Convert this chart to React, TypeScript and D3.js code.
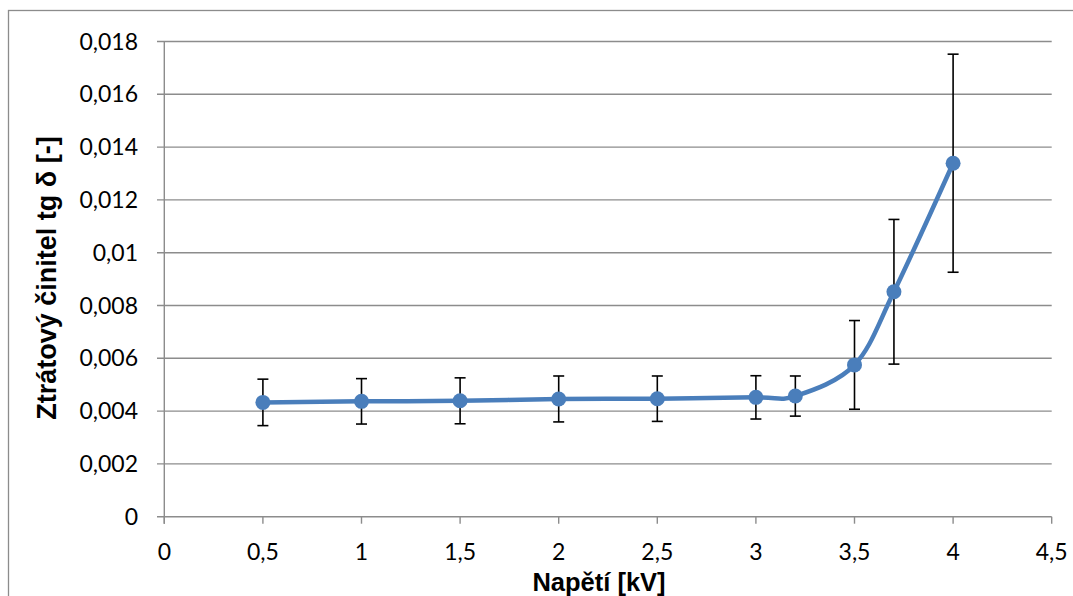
import React from "react";
import * as d3 from "d3";

const voltages = [0.5, 1, 1.5, 2, 2.5, 3, 3.2, 3.5, 3.7, 4];
const tanDelta = [0.00433, 0.00437, 0.00439, 0.00446, 0.00447, 0.00452, 0.00457, 0.00575, 0.00852, 0.01339];
const errors = [0.00088, 0.00086, 0.00087, 0.00087, 0.00086, 0.00082, 0.00076, 0.00168, 0.00274, 0.00413];
const xTicks = [0, 0.5, 1, 1.5, 2, 2.5, 3, 3.5, 4, 4.5];
const yTicks = [0, 0.002, 0.004, 0.006, 0.008, 0.01, 0.012, 0.014, 0.016, 0.018];
const xTitle = "Napětí [kV]";
const yTitle = "Ztrátový činitel tg δ [-]";

const W = 1073;
const H = 596;
const fmt = (v: number) => String(+v.toFixed(4)).replace(".", ",");

export default function App() {
  const x = d3.scaleLinear().domain([0, 4.5]).range([164.3, 1051.7]);
  const y = d3.scaleLinear().domain([0, 0.018]).range([516.7, 41.5]);
  const pts = voltages.map((v, i) => [x(v), y(tanDelta[i])] as [number, number]);
  const line = d3.line().curve(d3.curveCardinal.tension(0))(pts) || "";
  const blue = "#4a7ebb";
  const grid = "#8c8c8c";
  return (
    <svg width={W} height={H} style={{ position: "absolute", left: 0, top: 0 }}>
      <rect x={0} y={0} width={W} height={H} fill="#fff" />
      <rect x={8.5} y={10.5} width={1200} height={700} fill="#fff" stroke="#8c8c8c" strokeWidth={1.3} />
      {yTicks.map((t) => (
        <g key={"y" + t}>
          <line x1={157} x2={x(4.5)} y1={y(t)} y2={y(t)} stroke={grid} strokeWidth={1.4} />
          <text x={138} y={y(t) + 8} textAnchor="end" fontFamily="Lato" fontSize={23} fill="#000">
            {fmt(t)}
          </text>
        </g>
      ))}
      <line x1={x(0)} x2={x(0)} y1={y(0.018)} y2={y(0) + 7} stroke={grid} strokeWidth={1.4} />
      {xTicks.map((t) => (
        <g key={"x" + t}>
          <line x1={x(t)} x2={x(t)} y1={y(0)} y2={y(0) + 7} stroke={grid} strokeWidth={1.4} />
          <text x={x(t)} y={560} textAnchor="middle" fontFamily="Lato" fontSize={23} fill="#000">
            {fmt(t)}
          </text>
        </g>
      ))}
      {voltages.map((v, i) => {
        const cx = x(v);
        const top = y(tanDelta[i] + errors[i]);
        const bot = y(tanDelta[i] - errors[i]);
        return (
          <g key={"e" + v} stroke="#000" strokeWidth={1.6}>
            <line x1={cx} x2={cx} y1={top} y2={bot} />
            <line x1={cx - 5.5} x2={cx + 5.5} y1={top} y2={top} />
            <line x1={cx - 5.5} x2={cx + 5.5} y1={bot} y2={bot} />
          </g>
        );
      })}
      <path d={line} fill="none" stroke={blue} strokeWidth={4.5} strokeLinecap="round" />
      {pts.map(([px, py], i) => (
        <circle key={"p" + i} cx={px} cy={py} r={7.5} fill={blue} />
      ))}
      <text x={599} y={591} textAnchor="middle" fontFamily="Liberation Sans" fontWeight="bold" fontSize={25.5} fill="#000">
        {xTitle}
      </text>
      <text
        transform={`translate(56,278) rotate(-90)`}
        textAnchor="middle"
        fontFamily="Liberation Sans"
        fontWeight="bold"
        fontSize={27}
        fill="#000"
      >
        {yTitle}
      </text>
    </svg>
  );
}
